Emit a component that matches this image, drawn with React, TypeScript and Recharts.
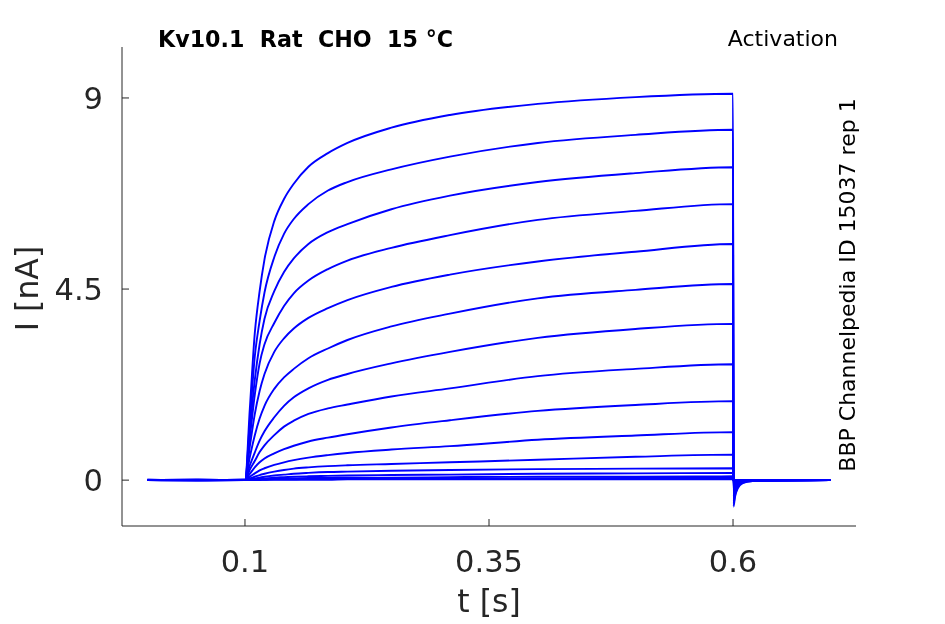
import { LineChart, Line, XAxis, YAxis, Label } from 'recharts';

// sample times (s) shared by every sweep
const times = [0, 0.05, 0.1, 0.105, 0.11, 0.115, 0.12, 0.13, 0.14, 0.15, 0.165, 0.185, 0.205, 0.25, 0.31, 0.4, 0.5, 0.6, 0.6005, 0.602, 0.605, 0.61, 0.62, 0.7];

// current (nA) per sweep
const sweep01 = [0, 0.01, 0, 1.7, 3.45, 4.45, 5.2, 6.1, 6.62, 6.98, 7.38, 7.7, 7.94, 8.3, 8.6, 8.86, 9.02, 9.1, -0.62, -0.4, -0.19, -0.07, -0.02, 0];
const sweep02 = [0, 0, 0.01, 1.4, 2.9, 3.75, 4.42, 5.25, 5.8, 6.15, 6.5, 6.82, 7.02, 7.32, 7.62, 7.94, 8.13, 8.25, -0.56, -0.36, -0.17, -0.06, -0.02, 0];
const sweep03 = [0.01, 0, 0, 1.2, 2.35, 3.2, 3.8, 4.45, 4.9, 5.22, 5.56, 5.84, 6.03, 6.38, 6.7, 7.02, 7.23, 7.37, -0.5, -0.32, -0.15, -0.05, -0.02, 0];
const sweep04 = [0, -0.01, 0, 1.0, 2.0, 2.75, 3.2, 3.7, 4.1, 4.4, 4.7, 4.97, 5.17, 5.47, 5.77, 6.13, 6.34, 6.5, -0.44, -0.28, -0.13, -0.05, -0.01, 0];
const sweep05 = [0, 0, 0, 0.8, 1.55, 2.1, 2.5, 3.02, 3.34, 3.57, 3.82, 4.05, 4.24, 4.55, 4.84, 5.15, 5.38, 5.56, -0.38, -0.24, -0.11, -0.04, -0.01, 0];
const sweep06 = [0, 0.01, 0, 0.55, 1.05, 1.45, 1.75, 2.15, 2.42, 2.62, 2.87, 3.1, 3.3, 3.62, 3.92, 4.28, 4.48, 4.62, -0.31, -0.2, -0.09, -0.03, -0.01, 0];
const sweep07 = [0, 0, 0.01, 0.35, 0.65, 0.93, 1.15, 1.48, 1.75, 1.95, 2.16, 2.36, 2.5, 2.75, 3.02, 3.35, 3.56, 3.68, -0.25, -0.16, -0.08, -0.03, -0.01, 0];
const sweep08 = [0, 0, 0, 0.25, 0.45, 0.66, 0.82, 1.06, 1.26, 1.4, 1.56, 1.69, 1.78, 1.97, 2.16, 2.45, 2.62, 2.73, -0.19, -0.12, -0.06, -0.02, 0, 0];
const sweep09 = [0, 0.01, 0, 0.15, 0.3, 0.42, 0.51, 0.63, 0.73, 0.81, 0.91, 1.0, 1.08, 1.24, 1.41, 1.63, 1.77, 1.86, -0.13, -0.08, -0.04, -0.01, 0, 0];
const sweep10 = [0, 0, 0.01, 0.08, 0.16, 0.23, 0.28, 0.36, 0.42, 0.47, 0.53, 0.59, 0.64, 0.72, 0.8, 0.95, 1.05, 1.13, -0.08, -0.05, -0.02, -0.01, 0, 0];
const sweep11 = [0, 0, 0, 0.04, 0.08, 0.12, 0.15, 0.2, 0.24, 0.27, 0.3, 0.33, 0.35, 0.38, 0.42, 0.48, 0.55, 0.6, -0.04, -0.03, -0.01, 0, 0, 0];
const sweep12 = [0.01, 0, 0, 0.02, 0.04, 0.06, 0.08, 0.11, 0.13, 0.15, 0.17, 0.19, 0.2, 0.22, 0.24, 0.26, 0.27, 0.28, -0.02, -0.01, 0, 0, 0, 0];
const sweep13 = [0, 0, 0, 0.01, 0.02, 0.03, 0.04, 0.06, 0.07, 0.08, 0.09, 0.1, 0.11, 0.12, 0.13, 0.15, 0.16, 0.17, -0.02, -0.01, 0, 0, 0, 0];
const sweep14 = [0, 0, 0, 0.01, 0.01, 0.02, 0.02, 0.03, 0.03, 0.04, 0.05, 0.05, 0.06, 0.06, 0.07, 0.08, 0.08, 0.09, -0.01, 0, 0, 0, 0, 0];
const sweep15 = [0, 0, 0, 0, 0.01, 0.01, 0.01, 0.02, 0.02, 0.02, 0.03, 0.03, 0.03, 0.03, 0.04, 0.04, 0.05, 0.05, -0.01, 0, 0, 0, 0, 0];
const sweep16 = [0, -0.01, 0, 0, 0, 0, 0.01, 0.01, 0.01, 0.01, 0.01, 0.01, 0.02, 0.02, 0.02, 0.02, 0.02, 0.02, 0, 0, 0, 0, 0, 0];

const sweeps = [
  sweep01, sweep02, sweep03, sweep04, sweep05, sweep06, sweep07, sweep08,
  sweep09, sweep10, sweep11, sweep12, sweep13, sweep14, sweep15, sweep16,
];

const xTicks = [0.1, 0.35, 0.6];
const yTicks = [0, 4.5, 9];

const rows = times.map((t, i) => {
  const row: Record<string, number> = { t };
  sweeps.forEach((s, k) => {
    row['s' + k] = s[i];
  });
  return row;
});

const AXIS = '#262626';
const FONT = 'DejaVu Sans';

function XTick({ x, y, payload }: any) {
  return (
    <g>
      <line x1={x} x2={x} y1={y} y2={y - 7} stroke={AXIS} strokeWidth={1} />
      <text x={x} y={y + 46} textAnchor="middle" fontSize={30.5} fill={AXIS} fontFamily={FONT}>
        {String(payload.value)}
      </text>
    </g>
  );
}

function YTick({ x, y, payload }: any) {
  return (
    <g>
      <line x1={x} x2={x + 7} y1={y} y2={y} stroke={AXIS} strokeWidth={1} />
      <text x={x - 19} y={y + 11} textAnchor="end" fontSize={30.5} fill={AXIS} fontFamily={FONT}>
        {String(payload.value)}
      </text>
    </g>
  );
}

export default function App() {
  return (
    <div style={{ position: 'fixed', left: 0, top: 0, width: 945, height: 624 }}>
      <LineChart
        width={945}
        height={624}
        data={rows}
        margin={{ top: 47, right: 89, bottom: 0, left: 22 }}
      >
        <XAxis
          type="number"
          dataKey="t"
          domain={[-0.026, 0.726]}
          ticks={xTicks}
          interval={0}
          allowDataOverflow
          height={98}
          tickLine={false}
          tickSize={0}
          tickMargin={0}
          tick={XTick}
          axisLine={{ stroke: AXIS, strokeWidth: 1 }}
        >
          <Label
            content={({ viewBox }: any) => (
              <text
                x={viewBox.x + viewBox.width / 2}
                y={viewBox.y + 86}
                textAnchor="middle"
                fontSize={31.5}
                fill={AXIS}
                fontFamily={FONT}
              >
                t [s]
              </text>
            )}
          />
        </XAxis>
        <YAxis
          type="number"
          domain={[-1.08, 10.2]}
          ticks={yTicks}
          interval={0}
          allowDataOverflow
          width={100}
          tickLine={false}
          tickSize={0}
          tickMargin={0}
          tick={YTick}
          axisLine={{ stroke: AXIS, strokeWidth: 1 }}
        >
          <Label
            content={({ viewBox }: any) => {
              const cx = viewBox.x + 16;
              const cy = viewBox.y + viewBox.height / 2 + 2;
              return (
                <text
                  x={cx}
                  y={cy}
                  transform={`rotate(-90, ${cx}, ${cy})`}
                  textAnchor="middle"
                  fontSize={31.5}
                  fill={AXIS}
                  fontFamily={FONT}
                >
                  I [nA]
                </text>
              );
            }}
          />
        </YAxis>
        {sweeps.map((_, k) => (
          <Line
            key={k}
            dataKey={'s' + k}
            type="monotone"
            stroke="#0000ff"
            strokeWidth={1.9}
            dot={false}
            activeDot={false}
            isAnimationActive={false}
          />
        ))}
      </LineChart>
      <svg
        width={945}
        height={624}
        style={{ position: 'absolute', left: 0, top: 0, pointerEvents: 'none' }}
      >
        <text x={158} y={47} fontSize={22.2} fontWeight="bold" fill="#000" fontFamily={FONT} style={{ whiteSpace: 'pre' }}>
          {'Kv10.1  Rat  CHO  15 °C'}
        </text>
        <text x={838} y={46} fontSize={22} textAnchor="end" fill="#000" fontFamily={FONT}>
          Activation
        </text>
        <text
          transform="translate(855, 285) rotate(-90)"
          textAnchor="middle"
          fontSize={22}
          fill="#000"
          fontFamily={FONT}
        >
          BBP Channelpedia ID 15037 rep 1
        </text>
      </svg>
    </div>
  );
}
